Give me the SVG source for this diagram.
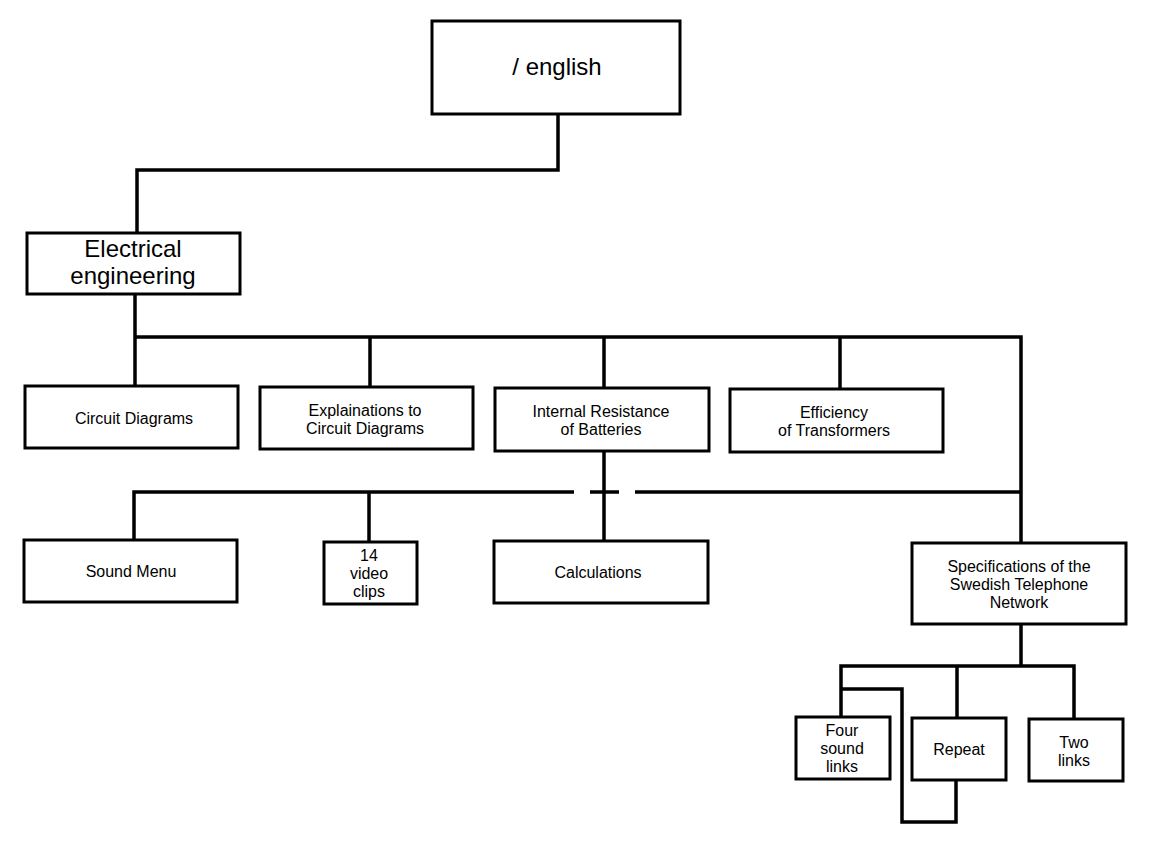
<svg xmlns="http://www.w3.org/2000/svg" width="1150" height="850" viewBox="0 0 1150 850">
<style>
.box{fill:#fff;stroke:#000;stroke-width:3}
.ln{fill:none;stroke:#000;stroke-width:3.5;stroke-linejoin:miter;stroke-linecap:butt}
text{font-family:"Liberation Sans",Arial,sans-serif;font-size:16px;fill:#000;text-anchor:middle}
.big{font-size:24px}
</style>
<rect width="1150" height="850" fill="#fff"/>
<g id="connectors">
<path class="ln" d="M558,114 V170 H137 V232"/>
<path class="ln" d="M135,294 V386 M135,337 H1021 V543 M370,337 V387 M604,337 V388 M840,337 V389"/>
<path class="ln" d="M134,540 V492 H574 M590,492 H619 M635,492 H1021 M369,492 V542 M604,451 V541"/>
<path class="ln" d="M1021,624 V666 M841,717 V666 H1074 V719 M957,666 V718"/>
<path class="ln" d="M841,689 H902 V822 H956 V780"/>
</g>
<g id="n-english"><rect class="box" x="432" y="21" width="248" height="93"/><text class="big" x="557" y="75">/ english</text></g>
<g id="n-electrical"><rect class="box" x="27" y="233" width="213" height="61"/><text class="big" x="133" y="257">Electrical</text><text class="big" x="133" y="284">engineering</text></g>
<g id="n-circuit"><rect class="box" x="25" y="386" width="213" height="62"/><text x="134" y="424">Circuit Diagrams</text></g>
<g id="n-explain"><rect class="box" x="260" y="387" width="213" height="62"/><text x="365" y="416">Explainations to</text><text x="365" y="434">Circuit Diagrams</text></g>
<g id="n-internal"><rect class="box" x="495" y="388" width="214" height="63"/><text x="601" y="417">Internal Resistance</text><text x="601" y="435">of Batteries</text></g>
<g id="n-efficiency"><rect class="box" x="730" y="389" width="213" height="63"/><text x="834" y="418">Efficiency</text><text x="834" y="436">of Transformers</text></g>
<g id="n-sound"><rect class="box" x="24" y="540" width="213" height="62"/><text x="131" y="577">Sound Menu</text></g>
<g id="n-video"><rect class="box" x="324" y="542" width="93" height="62"/><text x="369" y="561">14</text><text x="369" y="579">video</text><text x="369" y="597">clips</text></g>
<g id="n-calc"><rect class="box" x="494" y="541" width="214" height="62"/><text x="598" y="578">Calculations</text></g>
<g id="n-spec"><rect class="box" x="912" y="543" width="214" height="81"/><text x="1019" y="572">Specifications of the</text><text x="1019" y="590">Swedish Telephone</text><text x="1019" y="608">Network</text></g>
<g id="n-four"><rect class="box" x="796" y="717" width="94" height="62"/><text x="842" y="736">Four</text><text x="842" y="754">sound</text><text x="842" y="772">links</text></g>
<g id="n-repeat"><rect class="box" x="912" y="718" width="94" height="62"/><text x="959" y="755">Repeat</text></g>
<g id="n-two"><rect class="box" x="1029" y="719" width="94" height="62"/><text x="1074" y="748">Two</text><text x="1074" y="766">links</text></g>
</svg>
